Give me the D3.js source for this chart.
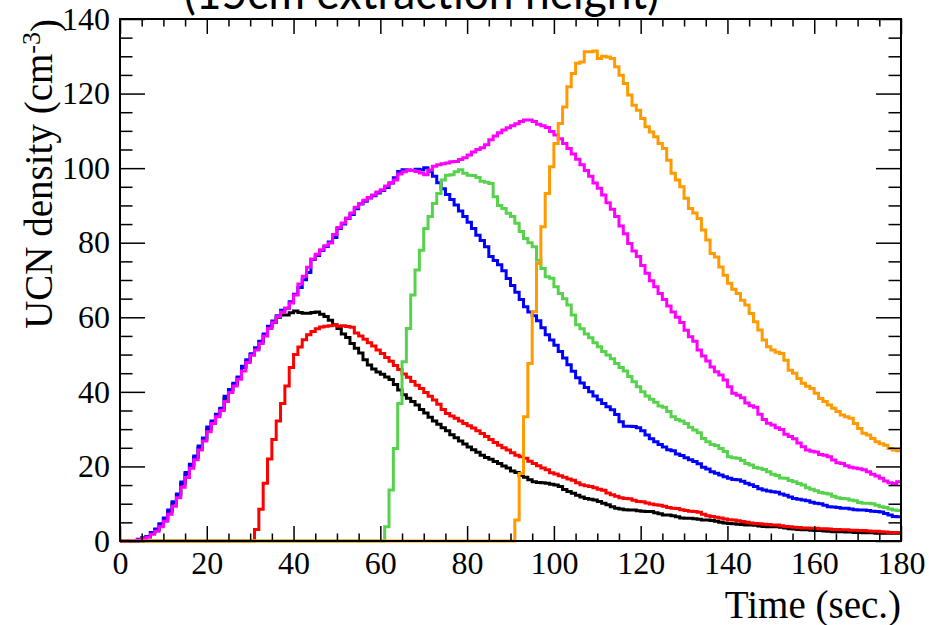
<!DOCTYPE html>
<html>
<head>
<meta charset="utf-8">
<title>UCN density</title>
<script src="https://d3js.org/d3.v7.min.js"></script>
<style>
  body { margin: 0; background: #fff; }
  svg { display: block; }
</style>
</head>
<body>
<div id="chart"></div>
<script>
    // histogram contents, 1 s bins; bins before the start index are empty
    var binEdges = [0, 180];
    var xTicks = [0, 20, 40, 60, 80, 100, 120, 140, 160, 180];
    var yTicks = [0, 20, 40, 60, 80, 100, 120, 140];

    var blackStart = 4;
    var blackVals = [0.4,0.8,1.2,2.2,3.0,4.4,6.0,8.0,10.2,12.3,
        15.3,18.0,20.2,22.4,25.0,27.2,30.0,31.8,33.6,35.3,
        38.3,40.2,42.0,43.7,46.5,48.3,50.0,51.5,53.4,55.2,
        57.3,58.6,60.0,60.6,60.6,61.2,61.7,61.3,61.1,61.1,
        61.3,61.4,60.8,60.2,59.2,58.0,57.0,55.5,54.6,53.0,
        51.7,50.4,48.6,47.2,46.1,45.3,44.7,44.0,43.3,42.0,
        40.5,39.2,38.3,37.4,36.5,35.3,34.3,33.2,32.2,31.3,
        30.4,29.6,28.5,27.7,26.8,26.0,25.2,24.5,23.8,23.0,
        22.4,21.9,21.3,20.8,20.1,19.6,18.8,18.4,17.6,17.1,
        16.4,15.9,15.7,15.6,15.5,15.2,15.0,14.6,13.8,13.3,
        12.8,12.3,11.8,11.4,11.2,11.0,10.6,10.1,9.7,9.2,
        8.8,8.6,8.4,8.3,8.3,8.1,8.0,7.9,7.9,7.6,
        7.3,7.0,7.0,6.8,6.5,6.2,6.1,6.1,6.0,5.8,
        5.6,5.6,5.5,5.3,5.0,4.8,4.7,4.6,4.5,4.4,
        4.3,4.3,4.2,4.0,3.9,3.8,3.8,3.8,3.7,3.5,
        3.3,3.2,3.1,3.0,3.0,2.9,2.8,2.8,2.7,2.6,
        2.5,2.5,2.5,2.4,2.4,2.3,2.3,2.2,2.2,2.2,
        2.1,2.1,2.1,2.1,2.1,2.1];

    var redStart = 31;
    var redVals = [3.1,8.5,15.5,22.0,27.2,32.2,36.9,41.6,46.5,50.0,
        52.0,54.0,55.3,56.2,56.9,57.4,57.6,57.7,57.9,57.6,
        57.7,57.5,57.3,55.8,55.0,54.1,53.2,52.3,51.2,50.3,
        49.2,48.2,47.1,46.0,44.8,43.9,42.8,41.8,40.9,39.8,
        38.8,37.8,36.7,35.3,34.2,33.5,32.9,32.2,31.5,30.9,
        30.3,29.6,28.8,28.0,27.2,26.4,25.7,25.0,24.4,23.7,
        23.0,22.6,22.2,21.4,20.8,20.2,19.6,19.1,18.3,18.0,
        17.5,17.1,16.6,16.3,15.6,15.1,14.8,14.6,14.3,13.9,
        13.6,12.9,12.4,12.0,11.6,11.4,11.3,10.9,10.6,10.5,
        10.2,9.9,9.7,9.6,9.3,9.0,8.8,8.7,8.4,8.2,
        8.0,7.9,7.7,7.2,6.8,6.6,6.4,6.2,5.9,5.7,
        5.6,5.4,5.2,5.0,4.8,4.7,4.6,4.5,4.4,4.3,
        4.3,4.1,3.9,3.8,3.7,3.6,3.5,3.5,3.4,3.4,
        3.3,3.3,3.2,3.1,3.1,3.0,3.0,2.9,2.9,2.8,
        2.8,2.7,2.6,2.6,2.5,2.4,2.3,2.3,2.3];

    var blueStart = 4;
    var blueVals = [0.5,0.8,1.2,2.3,3.2,4.6,6.2,8.3,10.5,12.6,
        15.8,18.4,20.6,22.8,25.5,27.6,30.6,32.2,34.0,35.6,
        38.8,40.6,42.3,44.0,46.9,48.6,50.2,51.8,53.6,55.5,
        57.6,59.0,60.4,61.9,62.4,64.2,66.2,68.0,70.1,72.0,
        75.5,76.6,77.9,79.0,80.2,81.4,83.8,85.0,86.5,87.6,
        89.1,90.4,91.1,92.0,92.6,93.3,94.0,94.8,96.0,97.4,
        99.1,99.6,99.5,99.4,99.7,99.6,100.1,99.2,97.8,96.1,
        94.5,92.9,91.6,90.1,88.5,87.0,85.5,83.8,82.0,80.6,
        78.9,76.3,75.2,74.1,72.5,70.4,68.5,66.7,64.8,62.8,
        61.4,60.4,59.1,57.2,55.3,53.9,52.5,50.8,49.1,47.3,
        45.5,43.8,42.4,41.2,40.0,38.9,37.9,36.9,36.0,35.2,
        33.9,32.0,30.8,30.8,30.7,30.4,29.6,28.4,27.4,26.6,
        25.9,25.2,24.5,24.2,23.3,22.9,22.3,21.8,21.3,20.7,
        19.8,19.3,18.6,18.2,17.7,17.2,16.8,16.5,16.4,16.0,
        15.5,15.1,14.6,14.0,13.7,13.4,13.2,13.1,12.6,12.3,
        11.8,11.4,11.2,11.0,10.8,10.4,10.1,10.0,9.6,9.2,
        9.1,9.0,8.8,8.8,8.6,8.4,8.3,8.3,8.2,8.0,
        7.9,7.8,7.4,7.0,6.6,6.5];

    var greenStart = 61;
    var greenVals = [3.8,13.7,24.8,36.9,48.1,57.0,66.0,72.7,78.0,83.8,
        87.0,90.5,93.2,96.8,98.1,98.2,99.0,99.6,98.6,98.1,
        98.0,97.5,96.5,96.2,95.9,92.3,90.0,89.2,87.9,87.0,
        85.2,83.0,81.1,80.0,78.9,75.3,73.1,70.9,70.5,68.2,
        66.4,65.0,63.3,60.6,58.0,56.9,55.5,54.5,53.2,52.1,
        50.8,49.9,48.9,47.6,46.5,45.6,44.1,42.7,41.4,40.0,
        38.9,38.0,37.2,36.2,35.9,34.7,33.3,32.6,32.2,31.5,
        30.5,29.8,29.0,27.5,26.6,25.9,25.6,24.8,24.0,22.6,
        22.3,22.2,21.6,20.8,20.4,19.7,19.5,19.2,18.6,17.9,
        17.6,16.9,16.8,16.2,15.9,15.4,15.0,14.3,13.9,13.5,
        13.0,12.8,12.6,12.0,11.6,11.4,11.3,11.0,10.8,10.3,
        10.1,10.1,10.0,9.6,9.2,9.0,8.6,8.3,8.2];

    var magentaStart = 4;
    var magentaVals = [0.3,0.6,1.0,1.8,2.6,3.8,5.3,7.2,9.3,11.6,
        14.4,17.0,19.5,21.8,24.4,26.8,29.3,31.5,33.3,35.0,
        37.4,39.8,41.6,43.4,45.6,47.9,49.8,51.2,53.0,55.0,
        57.0,58.7,60.2,61.4,62.4,63.8,66.0,68.9,71.0,73.4,
        75.6,76.9,78.1,79.2,79.9,82.2,84.1,85.3,86.6,88.0,
        89.5,90.5,91.4,92.1,92.8,93.6,94.2,95.2,96.0,96.8,
        98.4,99.0,99.5,99.4,99.1,98.7,98.2,99.5,100.5,100.9,
        101.2,101.4,101.7,101.8,102.3,102.8,103.5,104.3,105.0,105.5,
        106.3,107.6,108.6,109.5,110.2,110.8,111.4,111.9,112.5,112.9,
        112.9,112.5,111.8,111.4,110.9,109.8,108.9,107.9,106.6,105.3,
        103.8,102.4,100.9,99.4,97.8,96.0,94.6,92.8,90.7,89.0,
        87.0,84.5,82.4,79.8,77.8,76.3,73.9,71.8,69.8,68.2,
        66.4,64.8,63.0,61.4,60.0,58.6,56.5,54.8,53.6,51.2,
        49.6,48.3,46.7,45.4,44.5,43.2,41.4,39.6,39.1,38.4,
        37.0,36.3,35.9,34.0,32.6,31.6,31.1,30.4,29.9,28.6,
        28.0,27.4,26.3,25.3,24.4,24.1,23.9,23.2,23.0,22.6,
        21.7,21.0,20.8,20.2,19.8,19.6,19.4,19.1,18.6,17.9,
        17.4,16.8,16.1,15.6,15.4,15.9];

    var orangeStart = 91;
    var orangeVals = [5.6,18.1,33.3,47.6,61.5,74.4,84.3,93.2,100.4,106.6,
        112.0,116.4,121.8,125.4,128.1,128.5,131.2,131.2,131.4,129.4,
        130.0,129.8,129.4,127.2,124.9,122.7,119.6,116.9,115.5,113.3,
        111.1,109.7,108.4,106.6,105.3,102.1,98.6,96.8,95.0,91.9,
        89.2,88.0,86.5,83.4,80.7,77.1,76.2,73.5,71.3,69.1,
        67.5,66.4,64.6,63.3,61.0,58.8,56.6,53.9,52.1,51.2,
        50.6,50.3,48.5,45.8,45.0,43.6,42.3,41.5,40.9,39.6,
        38.2,37.4,36.5,35.6,34.7,33.8,33.3,32.9,31.5,30.2,
        28.9,28.4,27.5,26.6,26.1,25.7,24.8,24.4,24.2];

    // draw order as in the original canvas
    var seriesList = [
        { name: "black",   start: blackStart,   vals: blackVals,   color: "#000000" },
        { name: "red",     start: redStart,     vals: redVals,     color: "#ff0000" },
        { name: "blue",    start: blueStart,    vals: blueVals,    color: "#0000ff" },
        { name: "green",   start: greenStart,   vals: greenVals,   color: "#57d24c" },
        { name: "magenta", start: magentaStart, vals: magentaVals, color: "#ff00ff" },
        { name: "orange",  start: orangeStart,  vals: orangeVals,  color: "#ff9a00" }
    ];

    var width = 929, height = 625;
    var padL = 120, padR = 901, padT = 19, padB = 541;   // frame edges

    var svg = d3.select("#chart").append("svg")
        .attr("width", width)
        .attr("height", height);

    var x = d3.scaleLinear().domain(binEdges).range([padL, padR]);
    var y = d3.scaleLinear().domain([0, 140]).range([padB, padT]);

    var tickFont = "'Liberation Serif', 'Times New Roman', serif";

    // title, cut off by the top of the page
    svg.append("text")
        .attr("x", 184)
        .attr("y", 9)
        .attr("font-family", "Lato, 'Open Sans', sans-serif")
        .attr("font-size", "46px")
        .attr("textLength", 475)
        .attr("lengthAdjust", "spacingAndGlyphs")
        .attr("fill", "#000")
        .text("(15cm extraction height)");

    // build the step outline of one histogram
    function binValues(s) {
        var out = [];
        for (var i = binEdges[0]; i < binEdges[1]; ++i) {
            var v = 0;
            if (i >= s.start && i - s.start < s.vals.length) v = s.vals[i - s.start];
            out.push([i, v]);
        }
        out.push([binEdges[1], out[out.length - 1][1]]);
        return out;
    }

    var line = d3.line()
        .x(function (d) { return x(d[0]); })
        .y(function (d) { return y(d[1]); })
        .curve(d3.curveStepAfter);

    svg.append("g").selectAll("path")
        .data(seriesList)
        .enter().append("path")
        .attr("d", function (s) { return line(binValues(s)); })
        .attr("fill", "none")
        .attr("stroke", function (s) { return s.color; })
        .attr("stroke-width", 3)
        .attr("stroke-linejoin", "miter");

    var xMinor = d3.range(0, 181, 5).filter(function (v) { return v % 20 != 0; });
    var yMinor = d3.range(0, 141, 5).filter(function (v) { return v % 20 != 0; });

    function styleAxis(g) {
        g.select(".domain").remove();
        g.selectAll("line").attr("stroke", "#000").attr("stroke-width", 1.5);
        g.selectAll("text")
            .attr("font-family", tickFont)
            .attr("font-size", "32px")
            .attr("fill", "#000");
    }

    // bottom
    svg.append("g").attr("transform", "translate(0," + padB + ")")
        .call(d3.axisBottom(x).tickValues(xTicks).tickSize(-15).tickPadding(10).tickFormat(d3.format("d")))
        .call(styleAxis);
    svg.append("g").attr("transform", "translate(0," + padB + ")")
        .call(d3.axisBottom(x).tickValues(xMinor).tickSize(-7.5).tickFormat(""))
        .call(styleAxis);
    // top
    svg.append("g").attr("transform", "translate(0," + padT + ")")
        .call(d3.axisTop(x).tickValues(xTicks).tickSize(-15).tickFormat(""))
        .call(styleAxis);
    svg.append("g").attr("transform", "translate(0," + padT + ")")
        .call(d3.axisTop(x).tickValues(xMinor).tickSize(-7.5).tickFormat(""))
        .call(styleAxis);
    // left
    svg.append("g").attr("transform", "translate(" + padL + ",0)")
        .call(d3.axisLeft(y).tickValues(yTicks).tickSize(-25).tickPadding(10).tickFormat(d3.format("d")))
        .call(styleAxis);
    svg.append("g").attr("transform", "translate(" + padL + ",0)")
        .call(d3.axisLeft(y).tickValues(yMinor).tickSize(-12.5).tickFormat(""))
        .call(styleAxis);
    // right
    svg.append("g").attr("transform", "translate(" + padR + ",0)")
        .call(d3.axisRight(y).tickValues(yTicks).tickSize(-25).tickFormat(""))
        .call(styleAxis);
    svg.append("g").attr("transform", "translate(" + padR + ",0)")
        .call(d3.axisRight(y).tickValues(yMinor).tickSize(-12.5).tickFormat(""))
        .call(styleAxis);

    // frame
    svg.append("rect")
        .attr("x", padL)
        .attr("y", padT)
        .attr("width", padR - padL)
        .attr("height", padB - padT)
        .attr("fill", "none")
        .attr("stroke", "#000")
        .attr("stroke-width", 2);

    // axis titles
    svg.append("text")
        .attr("x", padR)
        .attr("y", 618)
        .attr("text-anchor", "end")
        .attr("font-family", tickFont)
        .attr("font-size", "39px")
        .attr("fill", "#000")
        .text("Time (sec.)");

    var yTitle = svg.append("text")
        .attr("transform", "translate(52," + padT + ") rotate(-90)")
        .attr("text-anchor", "end")
        .attr("font-family", tickFont)
        .attr("font-size", "39px")
        .attr("fill", "#000");
    yTitle.append("tspan").text("UCN density (cm");
    yTitle.append("tspan").attr("dy", "-0.45em").attr("font-size", "26px").text("-3");
    yTitle.append("tspan").attr("dy", "0.45em").text(")");
</script>
</body>
</html>
